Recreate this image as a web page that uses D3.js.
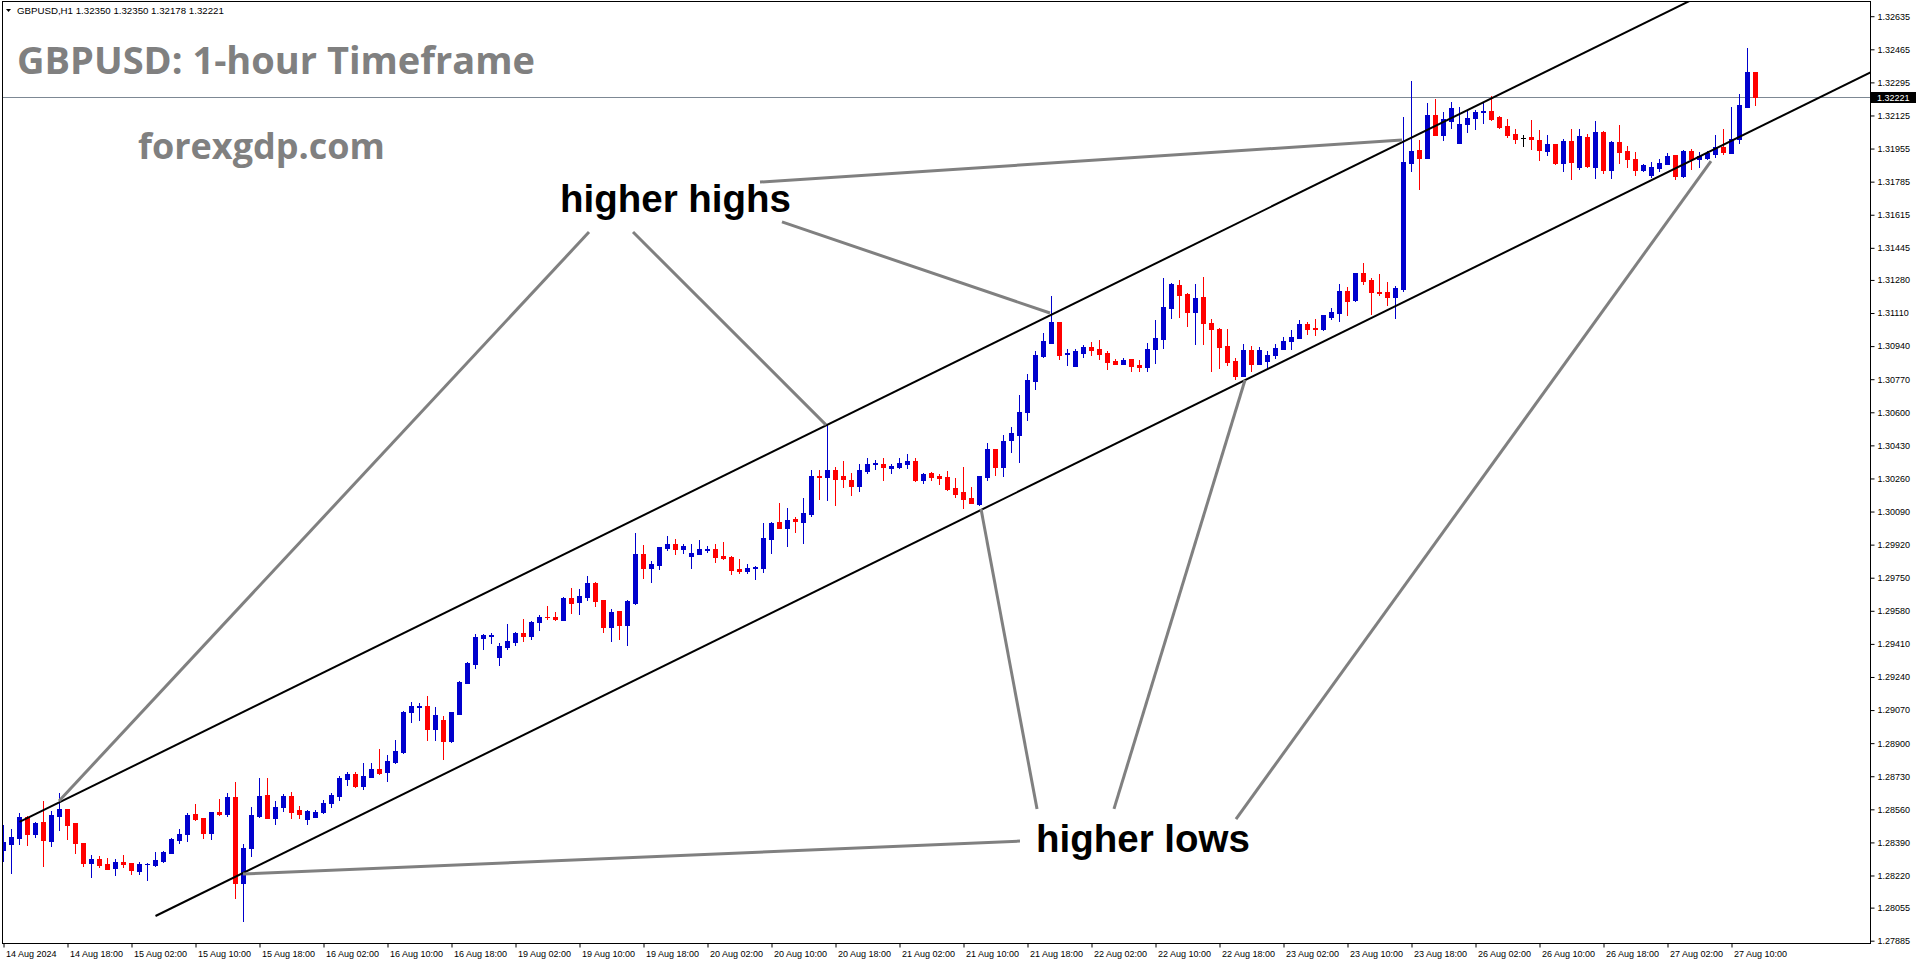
<!DOCTYPE html>
<html><head><meta charset="utf-8">
<script src="https://cdn.jsdelivr.net/npm/d3@7"></script>
<style>html,body{margin:0;padding:0;background:#fff;overflow:hidden}svg{display:block}</style>
</head><body><svg id="c" width="1916" height="964"></svg>
<script>
const headerText = "GBPUSD,H1  1.32350 1.32350 1.32178 1.32221";
const titleText = "GBPUSD: 1-hour Timeframe";
const siteText = "forexgdp.com";
const lastPrice = 1.32221;
const priceTicks = [1.32635,1.32465,1.32295,1.32125,1.31955,1.31785,1.31615,1.31445,1.31280,1.31110,1.30940,1.30770,1.30600,1.30430,1.30260,1.30090,1.29920,1.29750,1.29580,1.29410,1.29240,1.29070,1.28900,1.28730,1.28560,1.28390,1.28220,1.28055,1.27885];
const timeLabels = ["14 Aug 2024","14 Aug 18:00","15 Aug 02:00","15 Aug 10:00","15 Aug 18:00","16 Aug 02:00","16 Aug 10:00","16 Aug 18:00","19 Aug 02:00","19 Aug 10:00","19 Aug 18:00","20 Aug 02:00","20 Aug 10:00","20 Aug 18:00","21 Aug 02:00","21 Aug 10:00","21 Aug 18:00","22 Aug 02:00","22 Aug 10:00","22 Aug 18:00","23 Aug 02:00","23 Aug 10:00","23 Aug 18:00","26 Aug 02:00","26 Aug 10:00","26 Aug 18:00","27 Aug 02:00","27 Aug 10:00"];
const barsPerLabel = 8;
// [open, high, low, close] per hourly bar, from 14 Aug 10:00
const ohlc = [
[1.28353,1.28479,1.28296,1.28390],[1.28384,1.28459,1.28234,1.28416],[1.28414,1.28539,1.28384,1.28519],[1.28519,1.28526,1.28378,1.28435],
[1.28435,1.28497,1.28419,1.28490],[1.28495,1.28603,1.28270,1.28404],[1.28399,1.28551,1.28372,1.28529],[1.28527,1.28642,1.28454,1.28560],
[1.28560,1.28560,1.28409,1.28481],[1.28488,1.28488,1.28337,1.28385],[1.28385,1.28385,1.28269,1.28286],[1.28286,1.28325,1.28214,1.28303],
[1.28303,1.28320,1.28265,1.28276],[1.28277,1.28308,1.28255,1.28255],[1.28260,1.28303,1.28221,1.28288],[1.28288,1.28325,1.28265,1.28279],
[1.28282,1.28282,1.28229,1.28250],[1.28245,1.28291,1.28228,1.28277],[1.28277,1.28282,1.28199,1.28281],[1.28274,1.28341,1.28270,1.28300],
[1.28296,1.28346,1.28291,1.28341],[1.28337,1.28414,1.28337,1.28407],[1.28402,1.28459,1.28385,1.28433],[1.28435,1.28539,1.28399,1.28531],
[1.28534,1.28587,1.28505,1.28512],[1.28517,1.28517,1.28414,1.28440],[1.28440,1.28546,1.28409,1.28546],[1.28546,1.28613,1.28529,1.28536],
[1.28538,1.28642,1.28527,1.28622],[1.28622,1.28700,1.28106,1.28183],[1.28183,1.28382,1.27988,1.28361],[1.28363,1.28570,1.28322,1.28529],
[1.28527,1.28719,1.28522,1.28627],[1.28632,1.28719,1.28517,1.28517],[1.28517,1.28603,1.28486,1.28570],[1.28574,1.28639,1.28553,1.28628],
[1.28627,1.28649,1.28517,1.28548],[1.28555,1.28577,1.28517,1.28534],[1.28509,1.28557,1.28486,1.28550],[1.28522,1.28557,1.28521,1.28546],
[1.28545,1.28608,1.28539,1.28591],[1.28593,1.28646,1.28574,1.28634],[1.28628,1.28733,1.28606,1.28721],[1.28718,1.28754,1.28687,1.28742],
[1.28742,1.28754,1.28675,1.28680],[1.28682,1.28800,1.28666,1.28731],[1.28728,1.28800,1.28724,1.28767],[1.28767,1.28870,1.28742,1.28745],
[1.28754,1.28839,1.28706,1.28808],[1.28805,1.28916,1.28797,1.28859],[1.28854,1.29067,1.28851,1.29060],[1.29060,1.29111,1.29010,1.29089],
[1.29087,1.29104,1.29020,1.29091],[1.29089,1.29142,1.28918,1.28974],[1.28974,1.29084,1.28918,1.29044],[1.29019,1.29039,1.28820,1.28912],
[1.28912,1.29060,1.28907,1.29060],[1.29051,1.29219,1.29051,1.29216],[1.29211,1.29317,1.29211,1.29312],[1.29308,1.29459,1.29288,1.29445],
[1.29442,1.29459,1.29384,1.29456],[1.29449,1.29467,1.29416,1.29456],[1.29344,1.29413,1.29301,1.29399],[1.29396,1.29512,1.29382,1.29425],
[1.29420,1.29471,1.29402,1.29466],[1.29464,1.29538,1.29426,1.29452],[1.29450,1.29527,1.29437,1.29522],[1.29524,1.29557,1.29483,1.29548],
[1.29550,1.29605,1.29536,1.29546],[1.29548,1.29574,1.29531,1.29536],[1.29533,1.29649,1.29533,1.29646],[1.29646,1.29697,1.29570,1.29622],
[1.29625,1.29692,1.29563,1.29654],[1.29651,1.29759,1.29634,1.29723],[1.29723,1.29728,1.29606,1.29632],[1.29635,1.29635,1.29473,1.29498],
[1.29498,1.29589,1.29426,1.29574],[1.29579,1.29579,1.29437,1.29509],[1.29509,1.29635,1.29406,1.29632],[1.29618,1.29981,1.29613,1.29872],
[1.29872,1.29916,1.29750,1.29802],[1.29802,1.29838,1.29730,1.29820],[1.29817,1.29908,1.29793,1.29908],[1.29904,1.29964,1.29894,1.29923],
[1.29923,1.29947,1.29870,1.29899],[1.29899,1.29921,1.29879,1.29913],[1.29860,1.29921,1.29802,1.29875],[1.29873,1.29942,1.29873,1.29896],
[1.29894,1.29913,1.29882,1.29897],[1.29896,1.29921,1.29831,1.29858],[1.29861,1.29933,1.29846,1.29853],[1.29855,1.29861,1.29769,1.29790],
[1.29795,1.29846,1.29776,1.29786],[1.29786,1.29819,1.29776,1.29798],[1.29798,1.29810,1.29743,1.29805],[1.29802,1.30033,1.29781,1.29952],
[1.29951,1.30038,1.29879,1.30031],[1.30038,1.30134,1.30007,1.30007],[1.30007,1.30106,1.29915,1.30045],[1.30053,1.30064,1.29987,1.30040],
[1.30038,1.30160,1.29930,1.30081],[1.30077,1.30303,1.30069,1.30271],[1.30273,1.30303,1.30154,1.30269],[1.30269,1.30533,1.30151,1.30302],
[1.30302,1.30317,1.30124,1.30259],[1.30271,1.30350,1.30218,1.30256],[1.30252,1.30286,1.30177,1.30223],[1.30223,1.30334,1.30197,1.30302],
[1.30300,1.30365,1.30290,1.30333],[1.30333,1.30355,1.30310,1.30339],[1.30333,1.30365,1.30252,1.30321],[1.30315,1.30333,1.30290,1.30324],
[1.30321,1.30363,1.30314,1.30339],[1.30336,1.30386,1.30315,1.30350],[1.30350,1.30363,1.30249,1.30252],[1.30252,1.30290,1.30237,1.30283],
[1.30286,1.30293,1.30252,1.30268],[1.30271,1.30281,1.30230,1.30264],[1.30266,1.30298,1.30202,1.30208],[1.30209,1.30261,1.30165,1.30182],
[1.30189,1.30317,1.30110,1.30156],[1.30158,1.30214,1.30132,1.30132],[1.30129,1.30271,1.30124,1.30271],[1.30268,1.30442,1.30254,1.30410],
[1.30410,1.30410,1.30279,1.30319],[1.30319,1.30483,1.30274,1.30452],[1.30459,1.30526,1.30396,1.30494],[1.30485,1.30689,1.30346,1.30600],
[1.30603,1.30797,1.30560,1.30764],[1.30763,1.30915,1.30721,1.30893],[1.30889,1.31009,1.30882,1.30966],[1.30958,1.31198,1.30958,1.31064],
[1.31064,1.31064,1.30876,1.30894],[1.30901,1.30925,1.30843,1.30906],[1.30840,1.30925,1.30840,1.30913],[1.30906,1.30946,1.30886,1.30936],
[1.30936,1.30961,1.30896,1.30922],[1.30925,1.30972,1.30876,1.30901],[1.30905,1.30915,1.30823,1.30860],[1.30862,1.30872,1.30846,1.30850],
[1.30850,1.30877,1.30846,1.30869],[1.30874,1.30874,1.30814,1.30840],[1.30843,1.30867,1.30814,1.30834],[1.30834,1.30954,1.30814,1.30925],
[1.30924,1.31074,1.30855,1.30982],[1.30978,1.31288,1.30930,1.31141],[1.31138,1.31263,1.31085,1.31258],[1.31254,1.31279,1.31091,1.31204],
[1.31206,1.31211,1.31045,1.31117],[1.31117,1.31259,1.30951,1.31185],[1.31192,1.31295,1.30951,1.31057],[1.31057,1.31077,1.30814,1.31029],
[1.31029,1.31031,1.30829,1.30937],[1.30940,1.31026,1.30843,1.30860],[1.30863,1.30877,1.30769,1.30788],[1.30788,1.30951,1.30788,1.30920],
[1.30920,1.30942,1.30814,1.30846],[1.30846,1.30933,1.30846,1.30920],[1.30865,1.30916,1.30826,1.30894],[1.30894,1.30949,1.30879,1.30930],
[1.30927,1.30988,1.30927,1.30966],[1.30966,1.31023,1.30923,1.30987],[1.30983,1.31074,1.30983,1.31052],[1.31052,1.31065,1.31002,1.31029],
[1.31033,1.31081,1.30997,1.31029],[1.31029,1.31098,1.31023,1.31098],[1.31089,1.31134,1.31079,1.31115],[1.31108,1.31257,1.31070,1.31223],
[1.31223,1.31245,1.31100,1.31173],[1.31178,1.31314,1.31173,1.31314],[1.31314,1.31365,1.31259,1.31276],[1.31279,1.31288,1.31105,1.31220],
[1.31218,1.31310,1.31202,1.31214],[1.31216,1.31271,1.31151,1.31194],[1.31194,1.31249,1.31086,1.31240],[1.31232,1.32115,1.31225,1.31886],
[1.31882,1.32302,1.31841,1.31942],[1.31948,1.31999,1.31749,1.31908],[1.31908,1.32187,1.31908,1.32127],[1.32127,1.32208,1.32026,1.32026],
[1.32026,1.32143,1.31999,1.32105],[1.32098,1.32194,1.32062,1.32163],[1.31985,1.32170,1.31985,1.32081],[1.32083,1.32150,1.32042,1.32112],
[1.32112,1.32153,1.32054,1.32141],[1.32143,1.32187,1.32085,1.32146],[1.32148,1.32225,1.32100,1.32109],[1.32117,1.32122,1.32062,1.32067],
[1.32071,1.32105,1.32016,1.32026],[1.32030,1.32054,1.31985,1.32006],[1.32009,1.32023,1.31970,1.32009],[1.32013,1.32100,1.31954,1.32002],
[1.31999,1.32050,1.31898,1.31949],[1.31944,1.32025,1.31922,1.31978],[1.31978,1.31978,1.31877,1.31882],[1.31882,1.32002,1.31841,1.31994],
[1.31994,1.32058,1.31801,1.31888],[1.31862,1.32058,1.31852,1.32020],[1.32015,1.32028,1.31861,1.31866],[1.31862,1.32099,1.31806,1.32040],
[1.32040,1.32046,1.31831,1.31845],[1.31845,1.31996,1.31806,1.31989],[1.31989,1.32076,1.31883,1.31939],[1.31943,1.31969,1.31862,1.31900],
[1.31900,1.31936,1.31818,1.31845],[1.31845,1.31874,1.31840,1.31871],[1.31820,1.31888,1.31811,1.31861],[1.31857,1.31902,1.31840,1.31881],
[1.31878,1.31931,1.31878,1.31917],[1.31922,1.31922,1.31799,1.31816],[1.31816,1.31948,1.31811,1.31943],[1.31943,1.31951,1.31852,1.31903],
[1.31900,1.31939,1.31862,1.31917],[1.31909,1.31943,1.31903,1.31934],[1.31929,1.32025,1.31914,1.31963],[1.31963,1.32056,1.31929,1.31938],
[1.31934,1.32166,1.31934,1.32005],[1.32003,1.32236,1.31986,1.32178],[1.32171,1.32470,1.32171,1.32350],[1.32350,1.32350,1.32178,1.32221]
];
// channel trend lines: two anchors [bar, price], extended to the right edge
const channelUpper = [[2, 1.28495], [147, 1.31425]];
const channelLower = [[19, 1.28012], [97, 1.29589]];
// annotations: label anchor [bar, price] and pointer segments [[bar,price],[bar,price]]
const highsLabel = {text: "higher highs", at: [69.56, 1.31630]};
const highsLines = [
  [[73.19, 1.31526], [6.94, 1.28603]],
  [[78.69, 1.31526], [102.81, 1.30535]],
  [[94.56, 1.31783], [174.81, 1.31999]],
  [[97.31, 1.31578], [130.81, 1.31110]]
];
const lowsLabel = {text: "higher lows", at: [129.06, 1.28339]};
const lowsLines = [
  [[127.06, 1.28397], [29.94, 1.28228]],
  [[129.19, 1.28562], [122.19, 1.30103]],
  [[138.81, 1.28562], [155.19, 1.30766]],
  [[154.06, 1.28510], [213.44, 1.31891]]
];

const W = 1916, H = 964;
const plot = {left: 2, top: 1, right: 1870, bottom: 943};
const svg = d3.select("#c");
const x = d3.scaleLinear().domain([0, ohlc.length - 1]).range([3.5, 3.5 + 8 * (ohlc.length - 1)]);
const y = d3.scaleLinear().domain([1.27885, 1.32465]).range([940.7, 49.3]);
const BULL = "#0000cd", BEAR = "#ff0000", DOJI = "#000000";

svg.append("rect").attr("width", W).attr("height", H).attr("fill", "#fff");
svg.append("defs").append("clipPath").attr("id", "clip").append("rect")
  .attr("x", plot.left).attr("y", plot.top).attr("width", plot.right - plot.left).attr("height", plot.bottom - plot.top);

const g = svg.append("g").attr("clip-path", "url(#clip)");

// current price line
g.append("line").attr("x1", plot.left).attr("x2", plot.right)
  .attr("y1", Math.round(y(lastPrice)) + 0.5).attr("y2", Math.round(y(lastPrice)) + 0.5)
  .attr("stroke", "#7d8894").attr("stroke-width", 1);

// candles
const cg = g.append("g");
ohlc.forEach((d, i) => {
  const [o, h, l, c] = d;
  const col = c > o ? BULL : (c < o ? BEAR : DOJI);
  const cx = Math.floor(x(i));
  const yh = Math.round(y(h)), yl = Math.round(y(l));
  cg.append("rect").attr("x", cx).attr("y", yh).attr("width", 1).attr("height", Math.max(1, yl - yh + 1)).attr("fill", col);
  const yt = Math.round(y(Math.max(o, c))), yb = Math.round(y(Math.min(o, c)));
  cg.append("rect").attr("x", cx - 2).attr("y", yt).attr("width", 5).attr("height", Math.max(1, yb - yt + 1)).attr("fill", col);
});

// channel lines
function rayPoints(a) {
  const [[b1, p1], [b2, p2]] = a;
  const slope = (p2 - p1) / (b2 - b1);
  const bEnd = x.invert(plot.right + 5);
  return [[b1, p1], [bEnd, p1 + slope * (bEnd - b1)]];
}
[channelUpper, channelLower].forEach(a => {
  const pts = rayPoints(a);
  g.append("line")
    .attr("x1", x(pts[0][0])).attr("y1", y(pts[0][1]))
    .attr("x2", x(pts[1][0])).attr("y2", y(pts[1][1]))
    .attr("stroke", "#000").attr("stroke-width", 2);
});

// annotation pointers
[...highsLines, ...lowsLines].forEach(s => {
  g.append("line")
    .attr("x1", x(s[0][0])).attr("y1", y(s[0][1]))
    .attr("x2", x(s[1][0])).attr("y2", y(s[1][1]))
    .attr("stroke", "#808080").attr("stroke-width", 3);
});

// annotation labels
[highsLabel, lowsLabel].forEach(lb => {
  svg.append("text").attr("x", x(lb.at[0])).attr("y", y(lb.at[1]))
    .attr("font-family", "Liberation Sans, Arial, sans-serif").attr("font-weight", "bold")
    .attr("font-size", 38.5).attr("fill", "#000").text(lb.text);
});

// title & site
svg.append("text").attr("x", 17).attr("y", 74)
  .attr("font-family", "Open Sans, sans-serif").attr("font-weight", "bold").attr("font-size", 38)
  .attr("fill", "#808080").text(titleText);
svg.append("text").attr("x", 138).attr("y", 159)
  .attr("font-family", "Open Sans, sans-serif").attr("font-weight", "bold").attr("font-size", 36)
  .attr("fill", "#808080").text(siteText);

// header
svg.append("path").attr("d", "M6,9 L11,9 L8.5,12 Z").attr("fill", "#000");
svg.append("text").attr("x", 17).attr("y", 14)
  .attr("font-family", "Liberation Sans, Arial, sans-serif").attr("font-size", 9.7)
  .attr("fill", "#000").text(headerText);

// frame
svg.append("rect").attr("x", plot.left + 0.5).attr("y", plot.top + 0.5)
  .attr("width", plot.right - plot.left).attr("height", plot.bottom - plot.top)
  .attr("fill", "none").attr("stroke", "#000").attr("stroke-width", 1);

// right price axis
const yAxis = d3.axisRight(y).tickValues(priceTicks).tickFormat(d3.format(".5f")).tickSize(4).tickPadding(3);
const ya = svg.append("g").attr("transform", `translate(${plot.right + 0.5},0)`).call(yAxis);
ya.select(".domain").remove();
ya.selectAll("text").attr("font-family", "Liberation Sans, Arial, sans-serif").attr("font-size", 9).attr("fill", "#000");

// bottom time axis
const labelBars = timeLabels.map((t, k) => k * barsPerLabel);
const xAxis = d3.axisBottom(x).tickValues(labelBars).tickFormat((d, k) => timeLabels[k]).tickSize(4).tickPadding(3);
const xa = svg.append("g").attr("transform", `translate(0,${plot.bottom + 0.5})`).call(xAxis);
xa.select(".domain").remove();
xa.selectAll("text").attr("text-anchor", "start").attr("x", 2)
  .attr("font-family", "Liberation Sans, Arial, sans-serif").attr("font-size", 9).attr("fill", "#000");

// current price tag
const yp = Math.round(y(lastPrice));
svg.append("rect").attr("x", plot.right + 1).attr("y", yp - 5).attr("width", W - plot.right - 1).attr("height", 11).attr("fill", "#000");
svg.append("text").attr("x", plot.right + 7).attr("y", yp + 3.5)
  .attr("font-family", "Liberation Sans, Arial, sans-serif").attr("font-size", 9).attr("fill", "#fff")
  .text(d3.format(".5f")(lastPrice));
</script>
</body></html>
